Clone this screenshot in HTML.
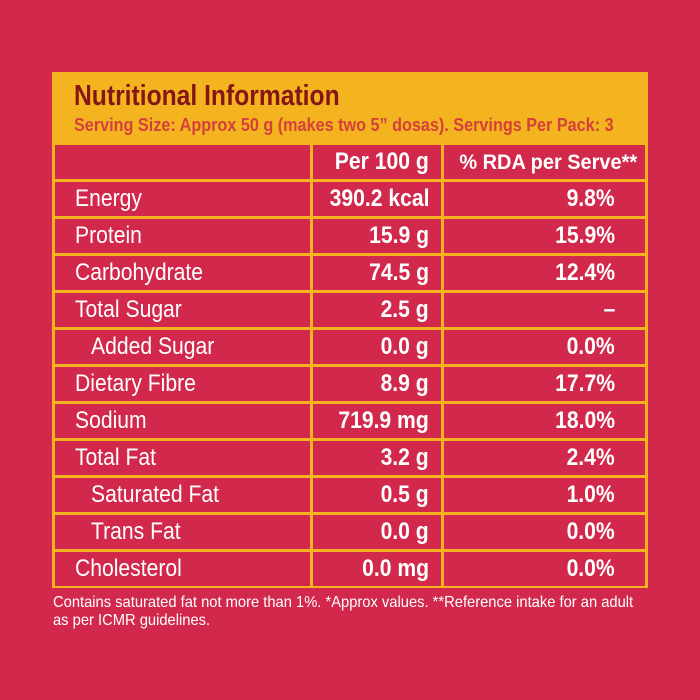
<!DOCTYPE html>
<html><head><meta charset="utf-8"><style>
html,body{margin:0;padding:0;width:700px;height:700px;background:#d1284b;overflow:hidden}
body{position:relative;font-family:"Liberation Sans",sans-serif}
.box{position:absolute;left:52px;top:72px;width:596px;height:516px;background:#f3b41f}
.t{position:absolute;left:74px;top:80px;font-size:29px;font-weight:bold;color:#851616;transform:scaleX(0.85);transform-origin:0 0;white-space:nowrap}
.s{position:absolute;left:74px;top:115px;font-size:18px;font-weight:bold;color:#d6403c;transform:scaleX(0.9);transform-origin:0 0;white-space:nowrap}
.c{position:absolute;background:#d1284b;color:#fff;font-size:24px;box-sizing:border-box;line-height:34px;white-space:nowrap}
.c span{display:inline-block;transform:scaleX(0.88)}
.l span{transform-origin:0 50%}
.r{text-align:right;font-weight:bold}
.r span{transform-origin:100% 50%}
.f{position:absolute;left:53px;top:594px;font-size:16px;color:#fff;line-height:18px;width:700px;transform:scaleX(0.92);transform-origin:0 0}
</style></head><body>
<div class="box"></div>
<div class="t">Nutritional Information</div>
<div class="s">Serving Size: Approx 50 g (makes two 5” dosas). Servings Per Pack: 3</div>
<div id="g"></div>
<div class="f">Contains saturated fat not more than 1%. *Approx values. **Reference intake for an adult<br>as per ICMR guidelines.</div>
<script>
var rows=[["","Per 100 g","% RDA per Serve**",0],["Energy","390.2 kcal","9.8%",0],["Protein","15.9 g","15.9%",0],["Carbohydrate","74.5 g","12.4%",0],["Total Sugar","2.5 g","–",0],["Added Sugar","0.0 g","0.0%",1],["Dietary Fibre","8.9 g","17.7%",0],["Sodium","719.9 mg","18.0%",0],["Total Fat","3.2 g","2.4%",0],["Saturated Fat","0.5 g","1.0%",1],["Trans Fat","0.0 g","0.0%",1],["Cholesterol","0.0 mg","0.0%",0]];
var ys=[142,179,216,253,290,327,364,401,438,475,512,549,586];
var h="";
rows.forEach(function(r,i){var t=ys[i]+3,hh=ys[i+1]-ys[i]-3;
h+='<div class="c l" style="left:55px;top:'+t+'px;width:255px;height:'+hh+'px;padding-left:'+(r[3]?36:20)+'px"><span>'+r[0]+'</span></div>';
h+='<div class="c r" style="left:313px;top:'+t+'px;width:128px;height:'+hh+'px;padding-right:12px"><span>'+r[1]+'</span></div>';
h+='<div class="c r" style="left:444px;top:'+t+'px;width:201px;height:'+hh+'px;padding-right:'+(i==0?8:30)+'px"><span'+(i==0?' style="font-size:21px;transform:scaleX(0.95)"':'')+'>'+r[2]+'</span></div>';});
document.getElementById("g").innerHTML=h;
</script>
</body></html>
